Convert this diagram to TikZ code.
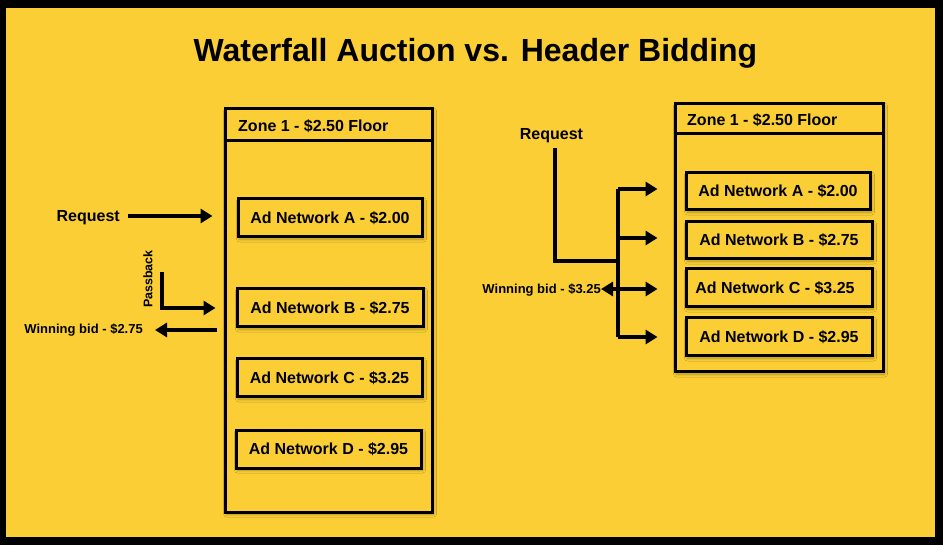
\documentclass[tikz,border=0pt]{standalone}
\usepackage{fontspec}
\setmainfont{Liberation Sans}
\usetikzlibrary{arrows.meta,shadows.blur}
\definecolor{bgyellow}{RGB}{250,206,52}
\tikzset{
  box/.style={draw=black, fill=bgyellow, line width=3pt, rectangle, inner sep=0pt,
    blur shadow={shadow xshift=1.5pt, shadow yshift=-2pt, shadow blur steps=6, shadow opacity=30, shadow blur radius=3pt},
    font=\fontsize{16}{18}\selectfont\bfseries},
  zonebox/.style={box},
  lbl/.style={inner sep=0pt, font=\fontsize{16}{18}\selectfont\bfseries},
  small/.style={inner sep=0pt, font=\fontsize{13}{15}\selectfont\bfseries},
  conn/.style={line width=4pt, -{Triangle[length=12pt,width=14pt]}},
  plain/.style={line width=4pt}
}
\begin{document}
\begin{tikzpicture}[x=1pt,y=-1pt]
\fill[black] (0,0) rectangle (943,545);
\fill[bgyellow] (6,8) rectangle (935,537);
\useasboundingbox (0,0) rectangle (943,545);

\node[inner sep=0pt, anchor=base, font=\fontsize{32}{36}\selectfont\bfseries] (title) at (475.5,62) {Waterfall Auction vs. Header Bidding};

% ---------- left: waterfall ----------
\node[zonebox, minimum width=207pt, minimum height=403pt] (lz) at (328.5,310.5) {};
\draw[line width=3pt] (lz.west |- 0,141) -- (lz.east |- 0,141);
\node[lbl, anchor=west] (lzt) at (238,126.5) {Zone 1 - \$2.50 Floor};

\node[box, minimum width=184pt, minimum height=38pt] (lA) at (330,218) {Ad Network A - \$2.00};
\node[box, minimum width=186pt, minimum height=38pt] (lB) at (330,308) {Ad Network B - \$2.75};
\node[box, minimum width=185pt, minimum height=38pt] (lC) at (329.5,378) {Ad Network C - \$3.25};
\node[box, minimum width=185pt, minimum height=38pt] (lD) at (328.5,449) {Ad Network D - \$2.95};

\node[lbl, anchor=east] (lreq) at (120,218) {Request};
\coordinate (lrs) at (128,216);
\draw[conn, shorten >=24pt] (lrs) -- (lA.west |- lrs);

\node[inner sep=0pt, rotate=90, font=\fontsize{12.5}{14}\selectfont\bfseries] (pb) at (148,279) {Passback};
\coordinate (pbs) at (162,272);
\draw[conn, shorten >=20pt] (pbs) |- (lB.west);

\node[small, anchor=east] (wl) at (143,330) {Winning bid - \$2.75};
\coordinate (wls) at (217,330);
\draw[conn, shorten >=12pt] (wls) -- (wl.east);

% ---------- right: header bidding ----------
\node[zonebox, minimum width=208pt, minimum height=268pt] (rz) at (779,238) {};
\draw[line width=3pt] (rz.west |- 0,134) -- (rz.east |- 0,134);
\node[lbl, anchor=west] (rzt) at (687,120) {Zone 1 - \$2.50 Floor};

\node[box, minimum width=184pt, minimum height=37pt] (rA) at (778,191.5) {Ad Network A - \$2.00};
\node[box, minimum width=186pt, minimum height=37pt] (rB) at (779,240.5) {Ad Network B - \$2.75};
\node[box, minimum width=186pt, minimum height=38pt] (rC) at (779,288) {\hspace*{-8pt}Ad Network C - \$3.25};
\node[box, minimum width=186pt, minimum height=38pt] (rD) at (779,337) {Ad Network D - \$2.95};

\node[lbl] (rreq) at (551.5,136) {Request};
\coordinate (rq0) at (555,148);
\coordinate (rj) at (618,261);
\coordinate (tA) at (618,189);
\coordinate (tB) at (618,238);
\coordinate (tC) at (618,289);
\coordinate (tD) at (618,337);
\draw[plain] (rq0) |- (rj);
\draw[plain] (tA) -- (tD);
\draw[conn, shorten >=27pt] (tA) -- (tA -| rA.west);
\draw[conn, shorten >=27pt] (tB) -- (tB -| rB.west);
\draw[conn, shorten >=27pt] (tC) -- (tC -| rC.west);
\draw[conn, shorten >=27pt] (tD) -- (tD -| rD.west);

\node[small, anchor=east] (wr) at (601,290) {Winning bid - \$3.25};
\draw[conn] (tC) -- (wr.east |- tC);
\end{tikzpicture}
\end{document}
